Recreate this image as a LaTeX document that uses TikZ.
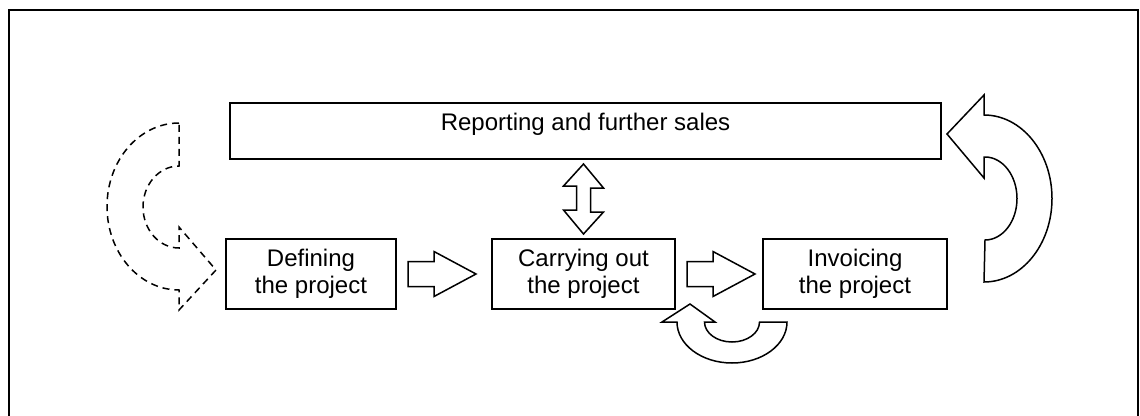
\documentclass[tikz,border=0pt]{standalone}
\usepackage{fontspec}
\setmainfont{Liberation Sans}
\usetikzlibrary{calc}
\begin{document}
\begin{tikzpicture}[x=1pt,y=-1pt,
  boxnode/.style={draw=black, line width=2pt, rectangle, inner sep=0pt, align=center,
    font=\fontsize{24}{27}\selectfont},
  blk/.style={draw=black, line width=1.5pt, fill=white, line join=miter},
  dblk/.style={blk, dash pattern=on 7pt off 5pt}]
\useasboundingbox (0,0) rectangle (1140,415);
% outer frame (open at the bottom edge of the picture)
\draw[line width=2.5pt] (9,420) -- (9,10) -- (1138,10) -- (1138,420);

% boxes
\node[boxnode, minimum width=711pt, minimum height=56pt, text height=17pt, text depth=19pt]
  (rep) at (585.5,131) {Reporting and further sales};
\node[boxnode, minimum width=170pt, minimum height=70pt] (def) at (311,274) {Defining\\the project};
\node[boxnode, minimum width=183pt, minimum height=70pt] (car) at (583.5,274) {Carrying out\\the project};
\node[boxnode, minimum width=184pt, minimum height=70pt] (inv) at (855,274) {Invoicing\\the project};

% straight block arrows
\coordinate (a1s) at ($(def.east)+(11,0)$);
\coordinate (a1t) at ($(car.west)+(-15,0)$);
\draw[blk] ($(a1s)+(0,-12.5)$) -- ++(26,0) -- ++(0,-10) -- (a1t)
  -- ($(a1s)+(26,22.5)$) -- ++(0,-10) -- ($(a1s)+(0,12.5)$) -- cycle;

\coordinate (a2s) at ($(car.east)+(11,0)$);
\coordinate (a2t) at ($(inv.west)+(-7,0)$);
\draw[blk] ($(a2s)+(0,-12.5)$) -- ++(26,0) -- ++(0,-10) -- (a2t)
  -- ($(a2s)+(26,22.5)$) -- ++(0,-10) -- ($(a2s)+(0,12.5)$) -- cycle;

% double vertical block arrow
\coordinate (dtop) at ($(rep.south -| car.north)+(0,4)$);
\coordinate (dbot) at ($(car.north)+(0,-4)$);
\draw[blk] (dtop) -- ++(20,24) -- ++(-13,0) -- ++(0,24) -- ++(13,0) -- (dbot)
  -- ++(-20,-24) -- ++(13,0) -- ++(0,-24) -- ++(-13,0) -- cycle;

% right curved arrow (back into the reporting box)
\coordinate (rc) at (985,198.5);
\coordinate (rtip) at ($(rep.east)+(5,3)$);
\draw[blk] (984,115) arc[start angle=90, end angle=-90, x radius=68pt, y radius=83.5pt]
  -- (985,240) arc[start angle=-90, end angle=90, x radius=32pt, y radius=41.5pt]
  -- (984,157) -- (984,178) -- (rtip) -- (984,95) -- cycle;

% left dashed curved arrow (into the defining box)
\coordinate (ltip) at ($(def.west)+(-9,-4)$);
\draw[dblk] (179,123) arc[start angle=90, end angle=270, x radius=72pt, y radius=83.5pt]
  -- (179,310) -- (ltip) -- (179,227) -- (179,248)
  arc[start angle=270, end angle=90, x radius=36pt, y radius=41pt]
  -- cycle;

% lower curved arrow (back into the carrying-out box)
\coordinate (btip) at ($(car.south east)+(14,-6)$);
\draw[blk] (787,322) arc[start angle=0, end angle=-180, x radius=55pt, y radius=41pt]
  -- (662,322) -- (btip) -- (715,322) -- (704.5,322)
  arc[start angle=180, end angle=360, x radius=27.5pt, y radius=20pt]
  -- cycle;
\end{tikzpicture}
\end{document}
